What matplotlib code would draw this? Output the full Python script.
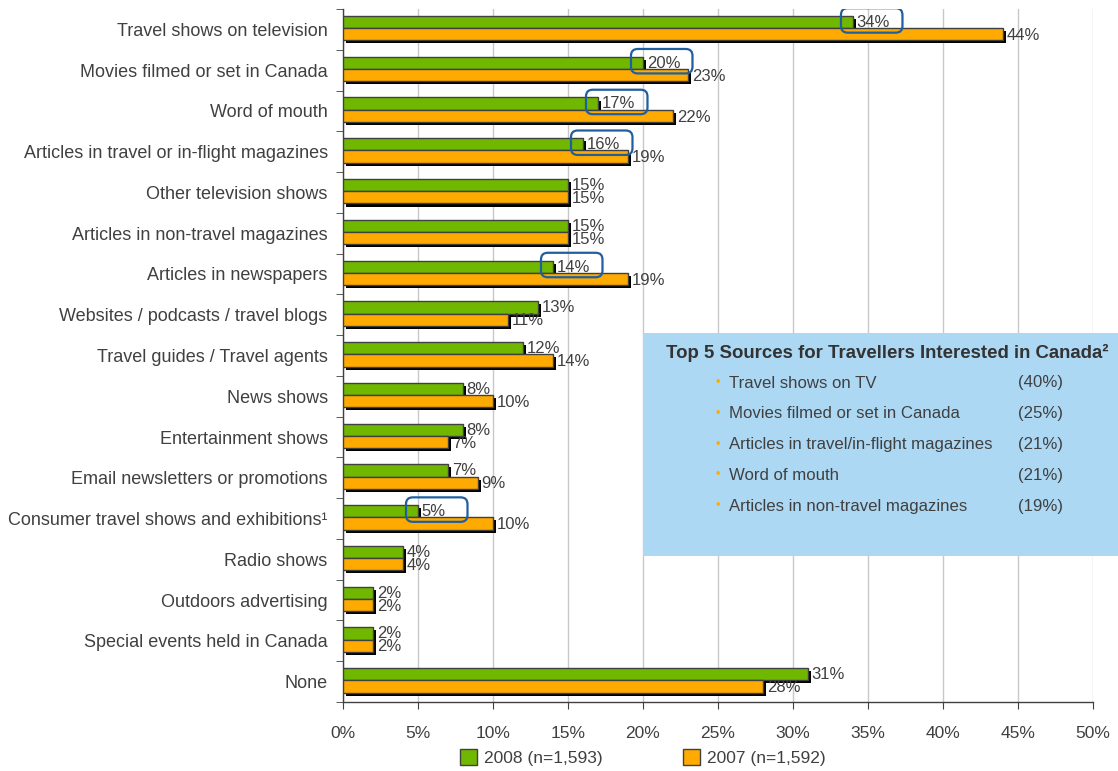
import matplotlib
matplotlib.use("Agg")
import matplotlib.pyplot as plt
import matplotlib.patheffects as pe
from matplotlib.patches import Patch, Rectangle, FancyBboxPatch
import numpy as np

plt.rcParams['font.family'] = ['Liberation Sans', 'DejaVu Sans']

categories = [
    "Travel shows on television",
    "Movies filmed or set in Canada",
    "Word of mouth",
    "Articles in travel or in-flight magazines",
    "Other television shows",
    "Articles in non-travel magazines",
    "Articles in newspapers",
    "Websites / podcasts / travel blogs",
    "Travel guides / Travel agents",
    "News shows",
    "Entertainment shows",
    "Email newsletters or promotions",
    "Consumer travel shows and exhibitions\u00b9",
    "Radio shows",
    "Outdoors advertising",
    "Special events held in Canada",
    "None",
]
values_2008 = [34, 20, 17, 16, 15, 15, 14, 13, 12, 8, 8, 7, 5, 4, 2, 2, 31]
values_2007 = [44, 23, 22, 19, 15, 15, 19, 11, 14, 10, 7, 9, 10, 4, 2, 2, 28]
highlighted = ["Travel shows on television", "Movies filmed or set in Canada",
               "Word of mouth", "Articles in travel or in-flight magazines",
               "Articles in newspapers",
               "Consumer travel shows and exhibitions\u00b9"]
legend_labels = ["2008 (n=1,593)", "2007 (n=1,592)"]
x_ticks = [0, 5, 10, 15, 20, 25, 30, 35, 40, 45, 50]

top5_sources = ["Travel shows on TV", "Movies filmed or set in Canada",
                "Articles in travel/in-flight magazines", "Word of mouth",
                "Articles in non-travel magazines"]
top5_values = [40, 25, 21, 21, 19]

GREEN = "#70B800"
ORANGE = "#FFAA00"
EDGE = "#404040"
TEXT = "#404040"
BOX_BLUE = "#1F5FA0"
INFO_BG = "#ADD8F4"

fig = plt.figure(figsize=(11.18, 7.71), dpi=100)
ax = fig.add_axes([0.3068, 0.0895, 0.6708, 0.8988])

y = np.arange(len(categories))
h = 0.30
shadow = [pe.SimplePatchShadow(offset=(2.2, -2.2), shadow_rgbFace="black", alpha=1.0),
          pe.Normal()]

bars08 = ax.barh(y - 0.18, values_2008, height=h, color=GREEN, edgecolor=EDGE,
                 linewidth=1.0, zorder=3)
bars07 = ax.barh(y + 0.12, values_2007, height=h, color=ORANGE, edgecolor=EDGE,
                 linewidth=1.0, zorder=4)
for b in list(bars08) + list(bars07):
    b.set_path_effects(shadow)

for i, (v8, v7) in enumerate(zip(values_2008, values_2007)):
    ax.text(v8 + 0.25, i - 0.17, f"{v8}%", ha="left", va="center",
            fontsize=12, color=TEXT, zorder=6)
    ax.text(v7 + 0.25, i + 0.15, f"{v7}%", ha="left", va="center",
            fontsize=12, color=TEXT, zorder=6)

# rounded call-outs around selected 2008 values
for i, cat in enumerate(categories):
    if cat in highlighted:
        v = values_2008[i]
        box = FancyBboxPatch((v - 0.8, i - 0.52), 4.1, 0.6,
                             boxstyle="round,pad=0,rounding_size=0.45",
                             mutation_aspect=15 / 40.8,
                             fill=False, edgecolor=BOX_BLUE, linewidth=1.6,
                             zorder=7)
        ax.add_patch(box)

ax.set_xlim(0, 50)
ax.set_ylim(len(categories) - 0.5, -0.5)
ax.set_xticks(x_ticks)
ax.set_xticklabels([f"{t}%" for t in x_ticks], fontsize=12.5, color=TEXT)
ax.set_yticks(y)
ax.set_yticklabels(categories, fontsize=13, color=TEXT)
ax.tick_params(axis="y", which="major", length=0, pad=11)
ax.set_yticks(np.arange(len(categories) + 1) - 0.5, minor=True)
ax.tick_params(axis="y", which="minor", length=5, color=EDGE, direction="out")
ax.tick_params(axis="x", length=5, color=EDGE, direction="out", pad=12)

ax.grid(axis="x", color="#C8C8C8", linewidth=1.0, zorder=0)
ax.set_axisbelow(True)
for s in ["top", "right"]:
    ax.spines[s].set_visible(False)
for s in ["left", "bottom"]:
    ax.spines[s].set_color(EDGE)
    ax.spines[s].set_linewidth(1.0)

handles = [Patch(facecolor=GREEN, edgecolor=EDGE, label=legend_labels[0]),
           Patch(facecolor=ORANGE, edgecolor=EDGE, label=legend_labels[1])]
leg = fig.legend(handles=handles, loc="lower center", bbox_to_anchor=(0.575, -0.014),
                 ncol=2, frameon=False, fontsize=12.5, handlelength=1.0,
                 handleheight=1.0, handletextpad=0.4, columnspacing=4.6)
for t in leg.get_texts():
    t.set_color(TEXT)

# info panel
fig.add_artist(Rectangle((0.575, 0.279), 0.425, 0.289, transform=fig.transFigure,
                         facecolor=INFO_BG, edgecolor="none", zorder=5))
fig.text(0.5955, 0.5425, "Top 5 Sources for Travellers Interested in Canada\u00b2",
         fontsize=13.4, fontweight="bold", color="#333333", va="center", zorder=6)
for k, (src, val) in enumerate(zip(top5_sources, top5_values)):
    yy = 1 - (383 + k * 30.8) / 771
    fig.text(0.640, yy, "\u2022", fontsize=9, color=ORANGE, va="center", zorder=6)
    fig.text(0.652, yy, src, fontsize=12.1, color=TEXT, va="center", zorder=6)
    fig.text(0.911, yy, f"({val}%)", fontsize=12.1, color=TEXT, va="center", zorder=6)

fig.savefig("out.png", dpi=100)
